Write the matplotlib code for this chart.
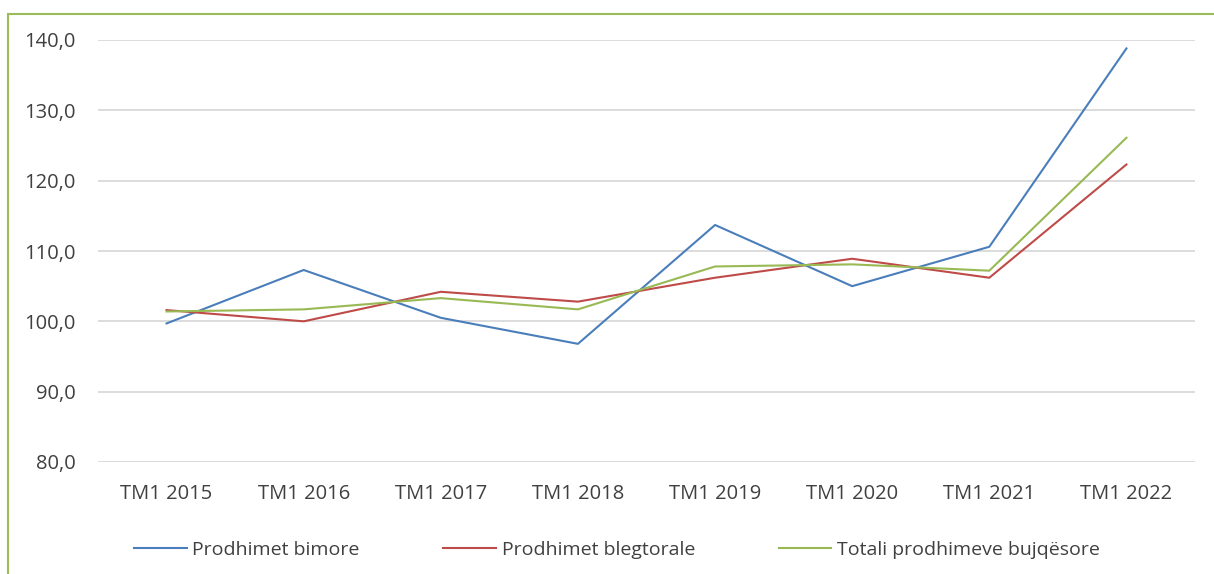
import numpy as np
import matplotlib.pyplot as plt
from matplotlib.patches import Rectangle
from matplotlib.ticker import FuncFormatter

# quarterly indices
periods = ['TM1 2015', 'TM1 2016', 'TM1 2017', 'TM1 2018',
           'TM1 2019', 'TM1 2020', 'TM1 2021', 'TM1 2022']
bimore = [99.7, 107.3, 100.5, 96.8, 113.7, 105.0, 110.6, 138.8]
blegtorale = [101.6, 100.0, 104.2, 102.8, 106.2, 108.9, 106.2, 122.3]
totali = [101.4, 101.7, 103.3, 101.7, 107.8, 108.1, 107.2, 126.1]

labels = ['Prodhimet bimore', 'Prodhimet blegtorale', 'Totali prodhimeve bujqësore']
colors = ['#4A7EBB', '#BE4B48', '#98B954']

plt.rcParams['font.family'] = ['Open Sans', 'DejaVu Sans']

fig = plt.figure(figsize=(12.14, 5.74), dpi=100)
ax = fig.add_axes([98 / 1214, 1 - 462 / 574, 1097 / 1214, 422 / 574])

x = np.arange(len(periods))
for series, lab, col in zip([bimore, blegtorale, totali], labels, colors):
    ax.plot(x, series, color=col, lw=1.5, label=lab)

ax.set_xlim(-0.5, len(periods) - 0.5)
ax.set_ylim(80, 140)
ax.set_yticks(np.arange(80, 141, 10))
ax.yaxis.set_major_formatter(FuncFormatter(lambda v, p: f'{v:.1f}'.replace('.', ',')))
ax.set_xticks(x)
ax.set_xticklabels(periods)
ax.tick_params(axis='both', length=0, labelsize=14.5, colors='#404040')
ax.tick_params(axis='x', pad=16)
ax.tick_params(axis='y', pad=16)
ax.grid(axis='y', color='#D9D9D9', lw=1.3)
ax.set_axisbelow(True)
for s in ax.spines.values():
    s.set_visible(False)

fig.legend(loc='center', bbox_to_anchor=(617 / 1214, 1 - 550 / 574), ncol=3,
           frameon=False, fontsize=14, handlelength=2.7, columnspacing=4.3,
           handletextpad=0.3, labelcolor='#404040')

# green chart frame (cut off at right and bottom)
fig.patches.append(Rectangle((8 / 1214, -0.1), 1.2, 1 - 14 / 574 + 0.1,
                             transform=fig.transFigure, fill=False,
                             edgecolor='#9BBB59', lw=1.5))

fig.savefig('out.png', dpi=100)
